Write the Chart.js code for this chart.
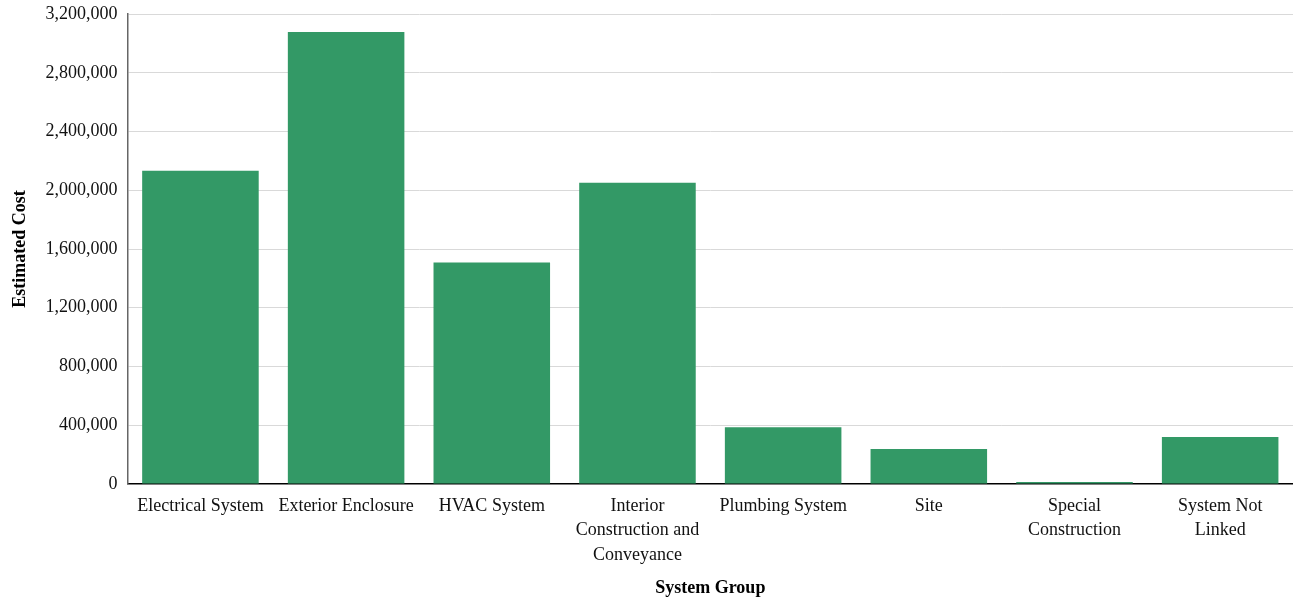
<!DOCTYPE html>
<html>
<head>
<meta charset="utf-8">
<script src="https://cdn.jsdelivr.net/npm/chart.js@4/dist/chart.umd.min.js"></script>
<style>
  html, body { margin: 0; padding: 0; background: #fff; }
  #box { width: 1293px; height: 599px; }
</style>
</head>
<body>
<div id="box"><canvas id="grafico"></canvas></div>
<script>
// categorias (quebradas em linhas como no original)
var categorias = [
  "Electrical System",
  "Exterior Enclosure",
  "HVAC System",
  ["Interior", "Construction and", "Conveyance"],
  "Plumbing System",
  "Site",
  ["Special", "Construction"],
  ["System Not", "Linked"]
];

// custo estimado por grupo
var custos = [2133000, 3078000, 1508000, 2052000, 387000, 238000, 14000, 319000];

// ticks do eixo y
var ticksY = [0, 400000, 800000, 1200000, 1600000, 2000000, 2400000, 2800000, 3200000];

var fonte = "'Liberation Serif', serif";

var ctx = document.getElementById("grafico");

var grafico = new Chart(ctx, {
  type: 'bar',
  data: {
    labels: categorias,
    datasets: [{
      label: "Estimated Cost",
      data: custos,
      backgroundColor: '#339966',
      borderWidth: 0,
      barPercentage: 0.8,
      categoryPercentage: 1.0
    }]
  },
  options: {
    responsive: true,
    maintainAspectRatio: false,
    animation: false,
    layout: { padding: { top: 0, right: 0, left: 10, bottom: 0 } },
    plugins: {
      legend: { display: false },
      tooltip: { enabled: false }
    },
    scales: {
      x: {
        grid: { display: false, drawTicks: false },
        border: { color: '#000', width: 1.5 },
        ticks: {
          color: '#111',
          font: { family: fonte, size: 18, lineHeight: 1.36 },
          padding: 10,
          maxRotation: 0,
          autoSkip: false
        },
        title: {
          display: true,
          text: "System Group",
          color: '#000',
          font: { family: fonte, size: 18, weight: 'bold' },
          padding: { top: 0, bottom: 0 }
        }
      },
      y: {
        min: 0,
        max: 3200000,
        afterBuildTicks: function(axis) {
          axis.ticks = ticksY.map(function(v) { return { value: v }; });
        },
        grid: { color: '#d9d9d9', drawTicks: false },
        border: { color: '#666', width: 1.5 },
        ticks: {
          color: '#111',
          font: { family: fonte, size: 18, lineHeight: 0.45 },
          padding: 10,
          callback: function(v) { return v.toLocaleString('en-US'); }
        },
        title: {
          display: true,
          text: "Estimated Cost",
          color: '#000',
          font: { family: fonte, size: 18, weight: 'bold' },
          padding: { top: 0, bottom: 4 }
        }
      }
    }
  }
});
</script>
</body>
</html>
